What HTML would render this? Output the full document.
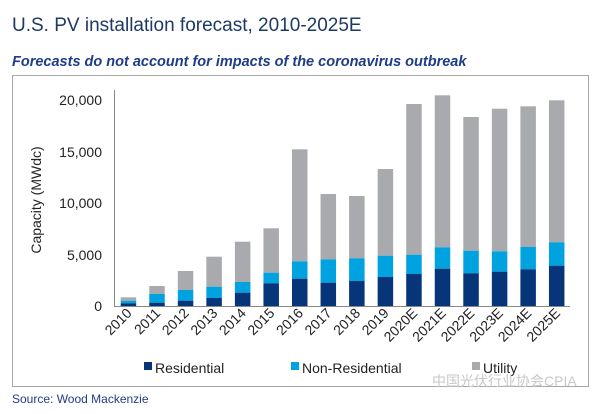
<!DOCTYPE html>
<html><head><meta charset="utf-8"><style>
body{margin:0;width:600px;height:409px;background:#fff;overflow:hidden;font-family:"Liberation Sans",Arial,sans-serif;}
</style></head><body>
<svg width="600" height="409" xmlns="http://www.w3.org/2000/svg" font-family="Liberation Sans, Arial, sans-serif">
<text x="12" y="31" font-size="19" fill="#1f3864">U.S. PV installation forecast, 2010-2025E</text>
<text x="12" y="66" font-size="14.5" font-weight="bold" font-style="italic" fill="#1f3c88">Forecasts do not account for impacts of the coronavirus outbreak</text>
<rect x="12.5" y="75.5" width="576" height="311" fill="none" stroke="#a6a6a6" stroke-width="1"/>
<line x1="114.5" y1="90" x2="114.5" y2="306" stroke="#888" stroke-width="1"/>
<line x1="114" y1="306.5" x2="570" y2="306.5" stroke="#888" stroke-width="1"/>
<g font-size="14" fill="#222" text-anchor="end">
<text x="102" y="105">20,000</text>
<text x="102" y="157">15,000</text>
<text x="102" y="208">10,000</text>
<text x="102" y="260">5,000</text>
<text x="102" y="311">0</text>
</g>
<text transform="translate(41,200) rotate(-90)" font-size="14" fill="#222" text-anchor="middle">Capacity (MWdc)</text>
<g id="bars"></g>
<g font-size="14" fill="#222" id="xl"></g>
<rect x="144" y="362" width="8" height="8" fill="#063579"/>
<text x="155" y="373" font-size="14" fill="#222">Residential</text>
<rect x="291" y="362" width="8" height="8" fill="#00a3e0"/>
<text x="302" y="373" font-size="14" fill="#222">Non-Residential</text>
<rect x="472" y="362" width="8" height="8" fill="#a8aaad"/>
<text x="483" y="373" font-size="14" fill="#222">Utility</text>
<text x="432" y="386" font-size="14" fill="#c8c8c8" font-family="Liberation Sans, Noto Sans CJK SC, sans-serif">中国光伏行业协会CPIA</text>
<text x="12" y="403" font-size="12" fill="#1f3c88">Source: Wood Mackenzie</text>
</svg>
<script>
var d=[[297.3,300.7,303.3],[286,294,302.7],[271,290,300.7],[256.7,286.7,298],[241.7,282,292.7],[228.3,272.7,283.3],[149.3,261.3,278.7],[194,259.3,282.7],[196,258.3,281],[169,255.7,277],[104,254.7,274],[95.3,247.3,268.7],[117,250.7,273.3],[108.7,251.3,271.7],[106.3,247,269.3],[100.3,242.3,265.7]];
var lab=["2010","2011","2012","2013","2014","2015","2016","2017","2018","2019","2020E","2021E","2022E","2023E","2024E","2025E"];
var ns="http://www.w3.org/2000/svg",g=document.getElementById("bars"),xl=document.getElementById("xl");
function r(x,y,h,c){var e=document.createElementNS(ns,"rect");e.setAttribute("x",x);e.setAttribute("y",y);e.setAttribute("width",15.5);e.setAttribute("height",h);e.setAttribute("fill",c);g.appendChild(e);}
d.forEach(function(v,i){var x=120.7+i*28.55;
r(x,v[0],v[1]-v[0],"#a8aaad");r(x,v[1],v[2]-v[1],"#00a3e0");r(x,v[2],306-v[2],"#063579");
var t=document.createElementNS(ns,"text");var cx=x+12,cy=314;t.setAttribute("x",cx);t.setAttribute("y",cy);t.setAttribute("text-anchor","end");t.setAttribute("transform","rotate(-45 "+cx+" "+cy+")");t.textContent=lab[i];xl.appendChild(t);});
</script>
</body></html>
